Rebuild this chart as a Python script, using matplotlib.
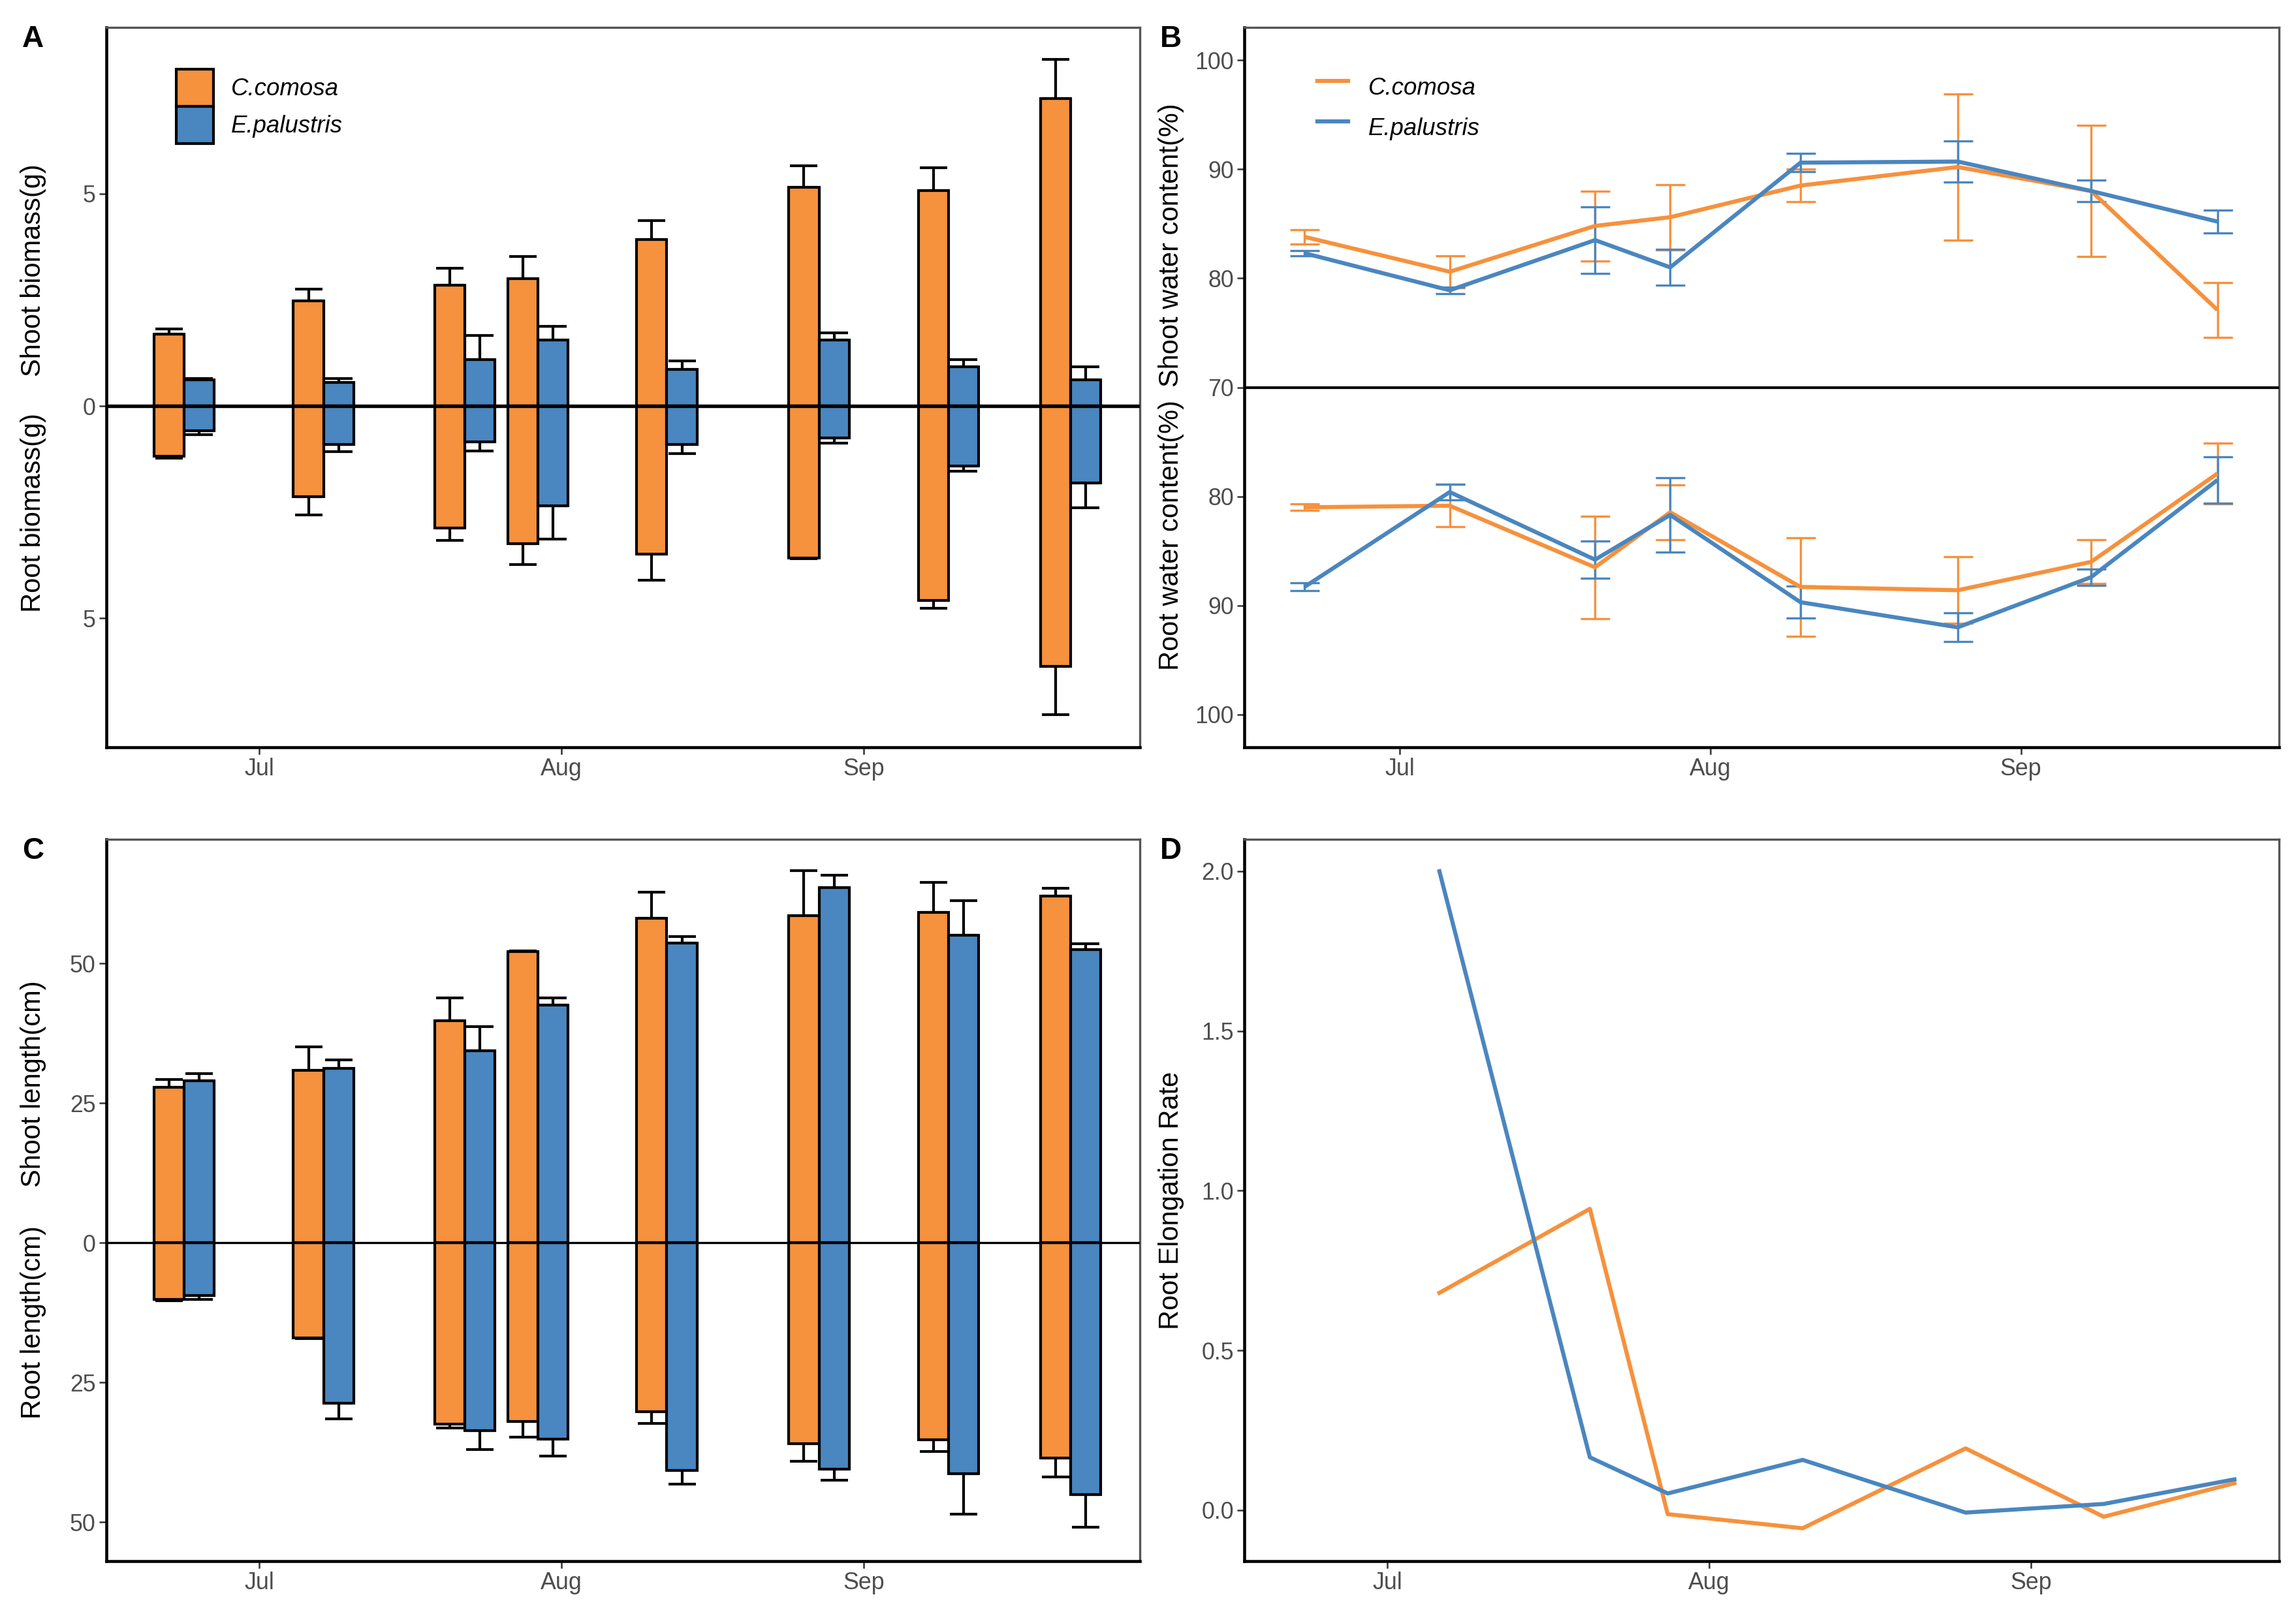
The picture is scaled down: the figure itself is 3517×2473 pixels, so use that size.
import numpy as np
import matplotlib
matplotlib.use("Agg")
import matplotlib.pyplot as plt
from matplotlib.patches import Patch
from matplotlib.lines import Line2D

plt.rcParams['font.family'] = ['Liberation Sans', 'DejaVu Sans']

# ---------------- data ----------------
species = ['C.comosa', 'E.palustris']
month_ticks = [0, 31, 62]            # days since 1 July
month_labels = ['Jul', 'Aug', 'Sep']

# sampling dates (days since 1 July)
bar_dates = [-7.7, 6.6, 21.1, 28.6, 41.8, 57.4, 70.7, 83.2]
line_dates = [-9.5, 5.0, 19.5, 27.0, 40.0, 55.7, 69.0, 81.6]

# Panel A: biomass (g)
co_shoot_bm = [1.70, 2.48, 2.84, 3.00, 3.92, 5.15, 5.08, 7.25]
co_shoot_bm_se = [0.12, 0.28, 0.41, 0.53, 0.45, 0.51, 0.54, 0.92]
co_root_bm = [1.18, 2.14, 2.88, 3.25, 3.49, 3.58, 4.58, 6.13]
co_root_bm_se = [0.05, 0.43, 0.29, 0.49, 0.61, 0.02, 0.19, 1.14]
ep_shoot_bm = [0.62, 0.56, 1.09, 1.56, 0.86, 1.56, 0.92, 0.62]
ep_shoot_bm_se = [0.03, 0.09, 0.58, 0.31, 0.21, 0.17, 0.17, 0.31]
ep_root_bm = [0.58, 0.90, 0.85, 2.35, 0.90, 0.75, 1.41, 1.81]
ep_root_bm_se = [0.09, 0.18, 0.21, 0.79, 0.22, 0.12, 0.13, 0.58]

# Panel B: water content (%)
co_shoot_wc = [83.8, 80.6, 84.8, 85.6, 88.5, 90.2, 88.0, 77.1]
co_shoot_wc_se = [0.65, 1.45, 3.2, 3.0, 1.5, 6.7, 6.0, 2.5]
ep_shoot_wc = [82.3, 78.9, 83.5, 81.0, 90.6, 90.7, 88.0, 85.2]
ep_shoot_wc_se = [0.25, 0.3, 3.05, 1.65, 0.85, 1.9, 1.0, 1.05]
co_root_wc = [81.0, 80.85, 86.5, 81.45, 88.3, 88.6, 86.0, 77.9]
co_root_wc_se = [0.3, 1.95, 4.7, 2.5, 4.5, 3.05, 2.0, 2.8]
ep_root_wc = [88.3, 79.6, 85.8, 81.7, 89.7, 92.0, 87.4, 78.5]
ep_root_wc_se = [0.35, 0.7, 1.7, 3.4, 1.45, 1.3, 0.75, 2.1]

# Panel C: length (cm)
co_shoot_len = [27.8, 30.8, 39.7, 52.1, 58.1, 58.5, 59.1, 62.0]
co_shoot_len_se = [1.4, 4.3, 4.1, 0.1, 4.6, 8.1, 5.4, 1.4]
co_root_len = [10.1, 17.0, 32.5, 32.0, 30.25, 36.0, 35.3, 38.6]
co_root_len_se = [0.3, 0.2, 0.7, 2.8, 2.05, 3.1, 2.1, 3.3]
ep_shoot_len = [29.0, 31.2, 34.3, 42.5, 53.6, 63.5, 55.0, 52.5]
ep_shoot_len_se = [1.3, 1.5, 4.4, 1.3, 1.2, 2.3, 6.2, 1.0]
ep_root_len = [9.4, 28.7, 33.6, 35.2, 40.8, 40.5, 41.3, 45.1]
ep_root_len_se = [0.7, 2.8, 3.4, 3.0, 2.4, 2.0, 7.3, 5.8]

# Panel D: root elongation rate
co_rate = [np.nan, 0.68, 0.943, -0.013, -0.057, 0.193, -0.021, 0.084]
ep_rate = [np.nan, 2.00, 0.165, 0.052, 0.157, -0.008, 0.019, 0.096]

# ---------------- style ----------------
ORANGE = '#F6913D'
BLUE = '#4A86BF'
TICK_COLOR = '#4D4D4D'
W, H = 3517, 2473
fig = plt.figure(figsize=(W / 300, H / 300), dpi=300)


def fx(px):
    return px / W


def fy(py):
    return 1 - py / H


def make_ax(l, t, r, b):
    return fig.add_axes([fx(l), fy(b), fx(r) - fx(l), fy(t) - fy(b)])


def style_ax(ax):
    for s in ['top', 'right']:
        ax.spines[s].set_color('#555555')
        ax.spines[s].set_linewidth(0.8)
    for s in ['left', 'bottom']:
        ax.spines[s].set_color('black')
        ax.spines[s].set_linewidth(1.1)
    ax.tick_params(axis='both', length=2.6, width=0.6, color='#333333',
                   labelsize=8.6, labelcolor=TICK_COLOR, pad=1.2)
    ax.set_xticks(month_ticks)
    ax.set_xticklabels(month_labels)


axA = make_ax(162.5, 42, 1746, 1145)
axB = make_ax(1906, 42, 3491, 1145)
axC = make_ax(162.5, 1286, 1746, 2392)
axD = make_ax(1906, 1286, 3491, 2392)

bw = 3.09  # bar width in days
cap = 5.0


def paired_bars(ax, co_s, co_s_se, co_r, co_r_se, ep_s, ep_s_se, ep_r, ep_r_se):
    x = np.array(bar_dates)
    for off, col, s, sse, r, rse in [(-bw / 2, ORANGE, co_s, co_s_se, co_r, co_r_se),
                                     (bw / 2, BLUE, ep_s, ep_s_se, ep_r, ep_r_se)]:
        xs = x + off
        s = np.array(s); r = np.array(r)
        ax.errorbar(xs, s, yerr=[np.zeros_like(s), np.array(sse)], fmt='none',
                    ecolor='black', elinewidth=1.0, capsize=cap, capthick=1.0, zorder=1)
        ax.errorbar(xs, -r, yerr=[np.array(rse), np.zeros_like(r)], fmt='none',
                    ecolor='black', elinewidth=1.0, capsize=cap, capthick=1.0, zorder=1)
        ax.bar(xs, s, width=bw, color=col, edgecolor='black', linewidth=1.0, zorder=2)
        ax.bar(xs, -r, width=bw, color=col, edgecolor='black', linewidth=1.0, zorder=2)


# ---- Panel A ----
paired_bars(axA, co_shoot_bm, co_shoot_bm_se, co_root_bm, co_root_bm_se,
            ep_shoot_bm, ep_shoot_bm_se, ep_root_bm, ep_root_bm_se)
axA.axhline(0, color='black', lw=1.3, zorder=3)
axA.set_xlim(-15.7, 90.3)
axA.set_ylim(-8.04, 8.92)
axA.set_yticks([-5, 0, 5])
axA.set_yticklabels(['5', '0', '5'])
style_ax(axA)
axA.legend(handles=[Patch(facecolor=ORANGE, edgecolor='black', lw=1.0, label=species[0]),
                    Patch(facecolor=BLUE, edgecolor='black', lw=1.0, label=species[1])],
           loc='upper left', bbox_to_anchor=(0.0679, 0.942), frameon=False,
           borderpad=0, borderaxespad=0, labelspacing=0, handlelength=1.55,
           handleheight=2.01, handletextpad=0.74,
           prop={'size': 8.8, 'style': 'italic'})

# ---- Panel B ----
xl = np.array(line_dates)
for col, sh, shse, rt, rtse in [(ORANGE, co_shoot_wc, co_shoot_wc_se, co_root_wc, co_root_wc_se),
                                (BLUE, ep_shoot_wc, ep_shoot_wc_se, ep_root_wc, ep_root_wc_se)]:
    sh = np.array(sh); rt = 140 - np.array(rt)
    axB.errorbar(xl, sh, yerr=shse, fmt='none', ecolor=col, elinewidth=0.8,
                 capsize=5.4, capthick=0.8, zorder=2)
    axB.errorbar(xl, rt, yerr=rtse, fmt='none', ecolor=col, elinewidth=0.8,
                 capsize=5.4, capthick=0.8, zorder=2)
    axB.plot(xl, sh, color=col, lw=1.5, zorder=3, solid_capstyle='butt')
    axB.plot(xl, rt, color=col, lw=1.5, zorder=3, solid_capstyle='butt')
axB.axhline(70, color='black', lw=1.0, zorder=4)
axB.set_xlim(-15.5, 87.75)
axB.set_ylim(37, 103)
axB.set_yticks([100, 90, 80, 70, 60, 50, 40])
axB.set_yticklabels(['100', '90', '80', '70', '80', '90', '100'])
style_ax(axB)
axB.legend(handles=[Line2D([], [], color=ORANGE, lw=1.5, label=species[0]),
                    Line2D([], [], color=BLUE, lw=1.5, label=species[1])],
           loc='upper left', bbox_to_anchor=(0.0707, 0.9447), frameon=False,
           borderpad=0, borderaxespad=0, labelspacing=0, handlelength=1.28,
           handleheight=2.22, handletextpad=0.84,
           prop={'size': 8.8, 'style': 'italic'})

# ---- Panel C ----
paired_bars(axC, co_shoot_len, co_shoot_len_se, co_root_len, co_root_len_se,
            ep_shoot_len, ep_shoot_len_se, ep_root_len, ep_root_len_se)
axC.axhline(0, color='black', lw=0.8, zorder=3)
axC.set_xlim(-15.7, 90.3)
axC.set_ylim(-57.0, 72.2)
axC.set_yticks([-50, -25, 0, 25, 50])
axC.set_yticklabels(['50', '25', '0', '25', '50'])
style_ax(axC)

# ---- Panel D ----
axD.plot(xl, co_rate, color=ORANGE, lw=1.5)
axD.plot(xl, ep_rate, color=BLUE, lw=1.5)
axD.set_xlim(-13.8, 85.9)
axD.set_ylim(-0.16, 2.10)
axD.set_yticks([0.0, 0.5, 1.0, 1.5, 2.0])
axD.set_yticklabels(['0.0', '0.5', '1.0', '1.5', '2.0'])
style_ax(axD)

# ---- axis titles ----
tkw = dict(rotation=90, ha='center', va='center', fontsize=10, color='black')
fig.text(fx(51), fy(414), 'Shoot biomass(g)', **tkw)
fig.text(fx(51), fy(785), 'Root biomass(g)', **tkw)
fig.text(fx(1794), fy(376), 'Shoot water content(%)', **tkw)
fig.text(fx(1794), fy(820), 'Root water content(%)', **tkw)
fig.text(fx(51), fy(1661), 'Shoot length(cm)', **tkw)
fig.text(fx(51), fy(2026), 'Root length(cm)', **tkw)
fig.text(fx(1794), fy(1839), 'Root Elongation Rate', **tkw)

# ---- panel letters ----
lkw = dict(ha='left', va='top', fontsize=11, fontweight='bold')
fig.text(fx(34), fy(38), 'A', **lkw)
fig.text(fx(1777), fy(38), 'B', **lkw)
fig.text(fx(34), fy(1282), 'C', **lkw)
fig.text(fx(1777), fy(1282), 'D', **lkw)

fig.savefig('out.png', dpi=300, facecolor='white')
